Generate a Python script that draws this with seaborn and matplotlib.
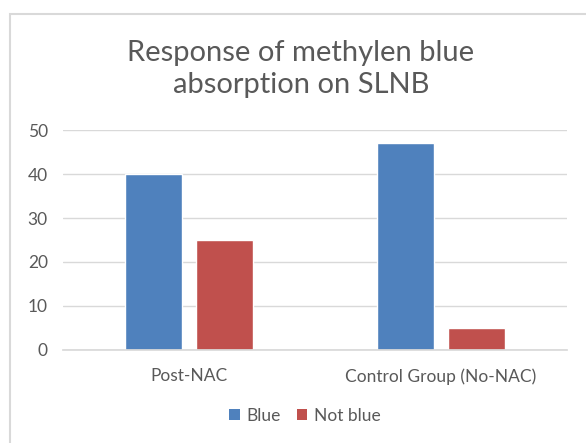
import matplotlib
matplotlib.use("Agg")
import matplotlib.pyplot as plt
import seaborn as sns
import pandas as pd
from matplotlib.patches import Rectangle, Patch

categories = ["Post-NAC", "Control Group (No-NAC)"]
series = ["Blue", "Not blue"]
blue_values = [40, 47]
not_blue_values = [25, 5]
yticks = [0, 10, 20, 30, 40, 50]
title = "Response of methylen blue\nabsorption on SLNB"

colors = {"Blue": "#4F81BD", "Not blue": "#C0504D"}

df = pd.DataFrame({
    "group": categories * 2,
    "series": [series[0]] * len(categories) + [series[1]] * len(categories),
    "value": blue_values + not_blue_values,
})

sns.set_theme(style="white")
plt.rcParams["font.family"] = ["Lato", "DejaVu Sans"]

fig = plt.figure(figsize=(5.86, 4.43), dpi=100)
fig.patch.set_facecolor("white")
fig.add_artist(Rectangle((10 / 586, -0.5), 1.5, 1.5 - 14 / 443, transform=fig.transFigure,
                         facecolor="none", edgecolor="#d9d9d9", linewidth=1.5))

ax = fig.add_axes([63 / 586, 1 - 350 / 443, (567 - 63) / 586, (350 - 130) / 443])
sns.barplot(data=df, x="group", y="value", hue="series", order=categories,
            hue_order=series, palette=colors, width=0.565, gap=0.21,
            saturation=1, ax=ax, legend=False)

ax.set_ylim(0, 50)
ax.set_yticks(yticks)
ax.set_xlim(-0.5, 1.5)
ax.yaxis.grid(True, color="#d9d9d9", linewidth=1)
ax.set_axisbelow(True)
for s in ["left", "right", "top"]:
    ax.spines[s].set_visible(False)
ax.spines["bottom"].set_color("#d9d9d9")
ax.set_xlabel("")
ax.set_ylabel("")
ax.tick_params(axis="both", length=0, labelsize=12.5, colors="#595959", pad=11)
ax.tick_params(axis="x", pad=13)

fig.text(301 / 586, 1 - 69 / 443, title, ha="center", va="center",
         fontsize=21, color="#595959", linespacing=1.3)

handles = [Patch(facecolor=colors[s], edgecolor="none") for s in series]
fig.legend(handles, series, loc="center", bbox_to_anchor=(305 / 586, 1 - 416 / 443),
           ncol=2, frameon=False, fontsize=12.5, handlelength=0.6, handleheight=0.6,
           handletextpad=0.4, columnspacing=0.9, labelcolor="#595959")

fig.savefig("out.png", dpi=100, facecolor="white")
